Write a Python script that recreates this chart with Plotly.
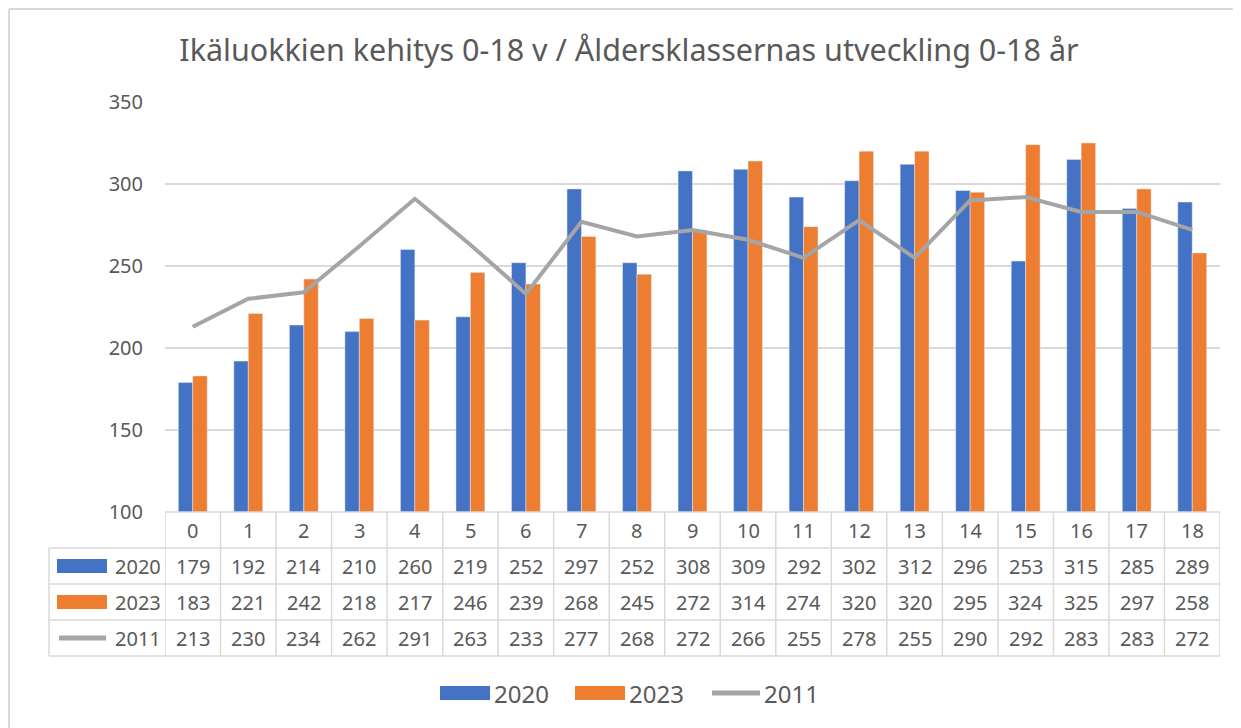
import plotly.graph_objects as go

categories = list(range(19))
cat_labels = [str(c) for c in categories]
s2020 = [179, 192, 214, 210, 260, 219, 252, 297, 252, 308, 309, 292, 302, 312, 296, 253, 315, 285, 289]
s2023 = [183, 221, 242, 218, 217, 246, 239, 268, 245, 272, 314, 274, 320, 320, 295, 324, 325, 297, 258]
s2011 = [213, 230, 234, 262, 291, 263, 233, 277, 268, 272, 266, 255, 278, 255, 290, 292, 283, 283, 272]
series_names = ["2020", "2023", "2011"]
title = "Ikäluokkien kehitys 0-18 v / Åldersklassernas utveckling 0-18 år"

OFF = 8  # page body offset in the screenshot
W, H = 1241 - OFF, 728 - OFF
L = 165 - OFF
R = W - (1220 - OFF)
T = 102 - OFF
B = H - (512 - OFF)
PW = W - L - R
PH = H - T - B
BLUE, ORANGE, GRAY = "#4472C4", "#ED7D31", "#A5A5A5"
TXT = "#595959"
LINE = "#D9D9D9"
FONT = "Noto Sans"

def px(sx):
    return (sx - OFF - L) / PW

def py(sy):
    return (H - B - (sy - OFF)) / PH

fig = go.Figure()
fig.add_trace(go.Bar(x=categories, y=s2020, name=series_names[0], marker_color=BLUE))
fig.add_trace(go.Bar(x=categories, y=s2023, name=series_names[1], marker_color=ORANGE))
fig.add_trace(go.Scatter(x=categories, y=s2011, name=series_names[2], mode="lines",
                         line=dict(color=GRAY, width=4)))

shapes = []
annotations = []

# Outer frame (top and left edges visible)
shapes.append(dict(type="line", xref="paper", yref="paper", x0=px(OFF + 1), x1=px(1241), y0=py(OFF + 1), y1=py(OFF + 1),
                   line=dict(color="#D9D9D9", width=2), layer="below"))
shapes.append(dict(type="line", xref="paper", yref="paper", x0=px(OFF + 1), x1=px(OFF + 1), y0=py(OFF + 1), y1=py(728),
                   line=dict(color="#D9D9D9", width=2), layer="below"))

# Data table
row_tops = [512, 548, 584, 620, 656]
for k in range(20):
    xv = -0.5 + k
    shapes.append(dict(type="line", xref="x", yref="paper", x0=xv, x1=xv, y0=py(512), y1=py(656),
                       line=dict(color=LINE, width=1.5)))
shapes.append(dict(type="line", xref="paper", yref="paper", x0=px(49), x1=px(49), y0=py(548), y1=py(656),
                   line=dict(color=LINE, width=1.5)))
for i, yy in enumerate(row_tops):
    x0 = px(165) if i == 0 else px(49)
    shapes.append(dict(type="line", xref="paper", yref="paper", x0=x0, x1=1, y0=py(yy), y1=py(yy),
                       line=dict(color=LINE, width=1.5)))

tfont = dict(family=FONT, size=20, color=TXT)
for i, lab in enumerate(cat_labels):
    annotations.append(dict(x=categories[i], y=py(530), xref="x", yref="paper", text=lab,
                            showarrow=False, font=tfont, xanchor="center", yanchor="middle"))
rows = [s2020, s2023, s2011]
row_y = [566, 602, 638]
for r, vals in enumerate(rows):
    for i, v in enumerate(vals):
        annotations.append(dict(x=categories[i], y=py(row_y[r]), xref="x", yref="paper", text=str(v),
                                showarrow=False, font=tfont, xanchor="center", yanchor="middle"))
    annotations.append(dict(x=px(163), y=py(row_y[r]), xref="paper", yref="paper", text=series_names[r],
                            showarrow=False, font=tfont, xanchor="right", yanchor="middle"))
shapes.append(dict(type="rect", xref="paper", yref="paper", x0=px(57), x1=px(107), y0=py(573), y1=py(559),
                   fillcolor=BLUE, line=dict(width=0)))
shapes.append(dict(type="rect", xref="paper", yref="paper", x0=px(57), x1=px(107), y0=py(609), y1=py(595),
                   fillcolor=ORANGE, line=dict(width=0)))
shapes.append(dict(type="line", xref="paper", yref="paper", x0=px(59), x1=px(106), y0=py(638), y1=py(638),
                   line=dict(color=GRAY, width=5)))

# Bottom legend
lfont = dict(family=FONT, size=24, color=TXT)
shapes.append(dict(type="rect", xref="paper", yref="paper", x0=px(440), x1=px(490), y0=py(700), y1=py(686),
                   fillcolor=BLUE, line=dict(width=0)))
annotations.append(dict(x=px(492), y=py(693), xref="paper", yref="paper", text=series_names[0],
                        showarrow=False, font=lfont, xanchor="left", yanchor="middle"))
shapes.append(dict(type="rect", xref="paper", yref="paper", x0=px(575), x1=px(625), y0=py(700), y1=py(686),
                   fillcolor=ORANGE, line=dict(width=0)))
annotations.append(dict(x=px(627), y=py(693), xref="paper", yref="paper", text=series_names[1],
                        showarrow=False, font=lfont, xanchor="left", yanchor="middle"))
shapes.append(dict(type="line", xref="paper", yref="paper", x0=px(712), x1=px(760), y0=py(693), y1=py(693),
                   line=dict(color=GRAY, width=5)))
annotations.append(dict(x=px(762), y=py(693), xref="paper", yref="paper", text=series_names[2],
                        showarrow=False, font=lfont, xanchor="left", yanchor="middle"))

fig.update_layout(
    width=W, height=H,
    margin=dict(l=L, r=R, t=T, b=B),
    paper_bgcolor="white", plot_bgcolor="white",
    barmode="group", bargap=0.48, bargroupgap=0.0,
    showlegend=False,
    title=dict(text=title, x=(629 - OFF) / W, xanchor="center", y=1 - (50 - OFF) / H, yanchor="middle",
               font=dict(family=FONT, size=30.5, color=TXT)),
    xaxis=dict(range=[-0.5, 18.5], showticklabels=False, showgrid=False, zeroline=False,
               showline=False, ticks=""),
    yaxis=dict(range=[100, 350], dtick=50, tick0=100, showgrid=True, gridcolor=LINE, gridwidth=2,
               zeroline=False, showline=False, ticks="", tickfont=dict(family=FONT, size=20, color=TXT),
               ticklabelstandoff=21),
    shapes=shapes, annotations=annotations,
    font=dict(family=FONT, color=TXT),
)

fig.write_html("out.html")
